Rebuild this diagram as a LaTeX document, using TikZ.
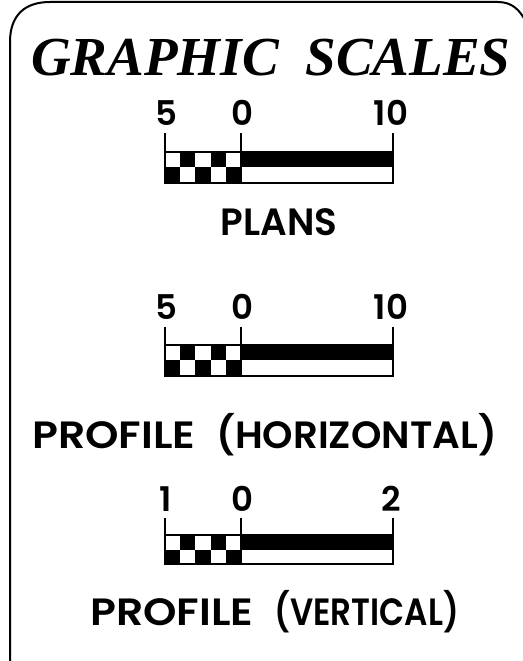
\documentclass[tikz,border=0pt]{standalone}
\usepackage{fontspec}
\setmainfont{Liberation Serif}
\newfontfamily\gfont{Poppins}[UprightFont={* SemiBold}]
\begin{document}
\begin{tikzpicture}[x=1pt,y=-1pt,
  frame/.style={line width=2pt},
  tick/.style={line width=2pt},
  barline/.style={line width=1.8pt},
  num/.style={font=\gfont\fontsize{34}{34}\selectfont, anchor=base, inner sep=0pt},
  caption/.style={font=\gfont\fontsize{38}{38}\selectfont, anchor=base, inner sep=0pt},
  captionw/.style={caption, anchor=base west},
  titletext/.style={font=\bfseries\itshape\fontsize{55}{55}\selectfont, anchor=base west, inner sep=0pt}]
\useasboundingbox (0,0) rectangle (522,661);
\draw[frame] (10,670) -- (10,42) .. controls (10,15) and (25,2) .. (50,2) -- (498,2) .. controls (512,2) and (520,10) .. (526,22);
\node[titletext] (title) at (31,76) {GRAPHIC\hspace{27pt}SCALES};
\foreach \t/\a/\m/\b/\nb/\dl/\dr [count=\i] in {133/152/167/183/125/5/10, 327/345/360/376/319/5/10, 518/535/550/564/511/1/2} {
  \fill (180.2,\a) rectangle (195.4,\m);
  \fill (210.6,\a) rectangle (225.8,\m);
  \fill (165,\m) rectangle (180.2,\b);
  \fill (195.4,\m) rectangle (210.6,\b);
  \fill (225.8,\m) rectangle (241,\b);
  \fill (241,\a) rectangle (393,\m);
  \draw[barline] (165,\a) rectangle (393,\b);
  \draw[barline] (241,\a) -- (241,\b);
  \draw[tick] (165,\t) -- (165,\a);
  \draw[tick] (241,\t) -- (241,\a);
  \draw[tick] (393,\t) -- (393,\a);
  \node[num] (l\i) at (166,\nb) {\dl};
  \node[num] (z\i) at (242,\nb) {0};
  \node[num] (r\i) at (391,\nb) {\dr};
}
\node[caption] (plans) at (279,235) {\scalebox{0.98}[1]{PLANS}};
\node[captionw] (horiz) at (32,448) {\scalebox{1.12}[1]{PROFILE}\hspace{21pt}\scalebox{1.02}[1]{(HORIZONTAL)}};
\node[captionw] (vert) at (90,625) {\scalebox{1.12}[1]{PROFILE}\hspace{21pt}\scalebox{0.86}[1]{(VERTICAL)}};
\end{tikzpicture}
\end{document}
